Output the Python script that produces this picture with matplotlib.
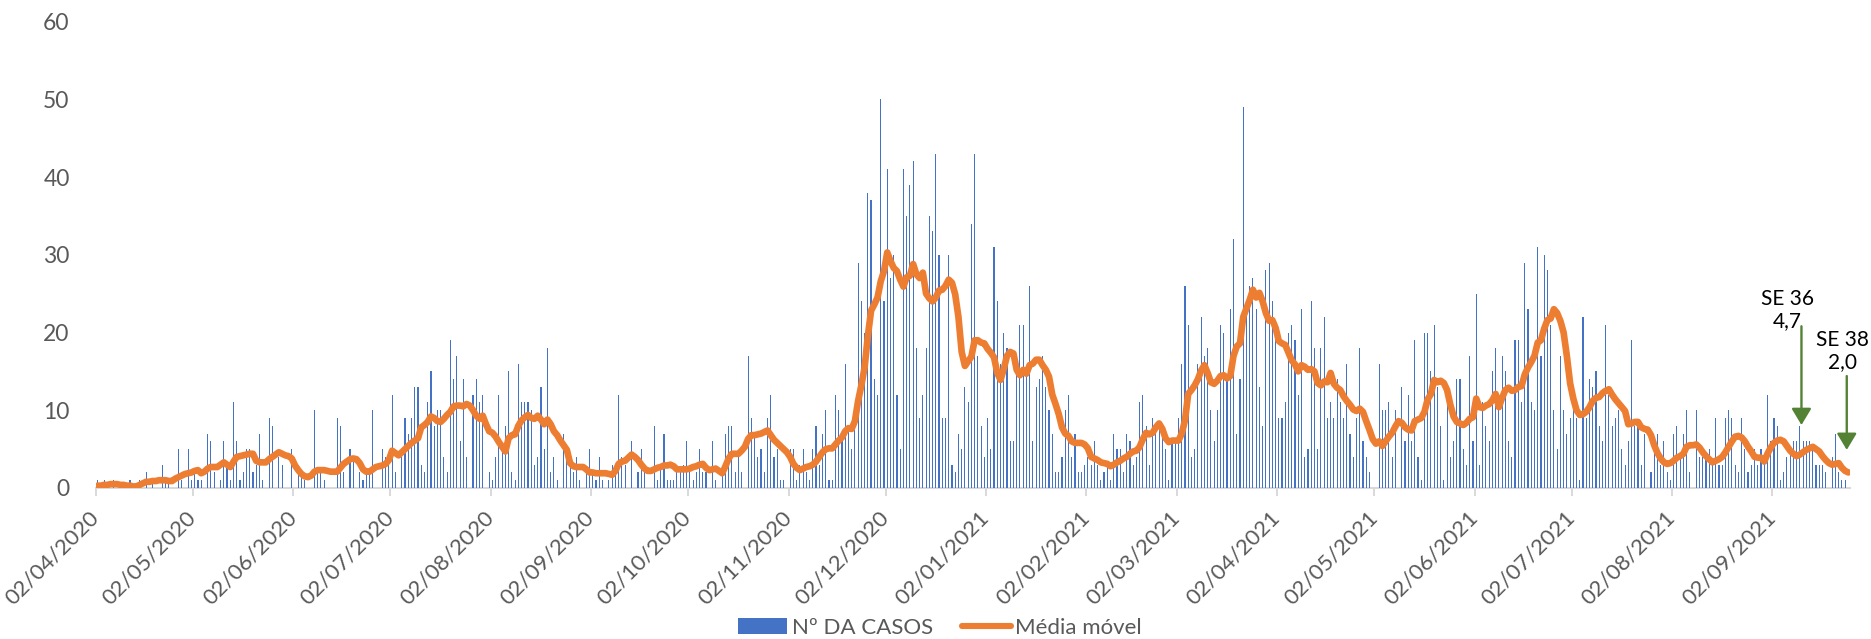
import numpy as np
import pandas as pd
import matplotlib
matplotlib.use("Agg")
import matplotlib.pyplot as plt
from matplotlib.patches import Patch
from matplotlib.lines import Line2D

plt.rcParams['font.family'] = ['Lato', 'DejaVu Sans']

start_date = "2020-04-02"

# Nº DA CASOS (daily, from 02/04/2020)
cases = [
    1,0,1,0,0,1,0,0,0,0,  1,0,0,1,0,2,0,1,0,0,  3,1,1,0,0,5,1,0,5,1,
    2,1,1,0,7,6,2,0,1,6,  3,1,11,6,1,2,5,5,2,3,  7,1,0,9,8,0,4,3,0,0,
    5,0,3,2,1,0,0,10,2,2,  1,0,0,0,9,8,2,0,5,4,  0,2,1,2,2,10,0,0,5,4,
    3,12,2,0,4,9,7,9,13,13,  3,2,11,15,8,10,10,4,2,19,  14,17,6,14,4,0,12,14,11,12,
    0,2,1,4,12,5,8,15,2,1,  16,11,11,11,10,3,4,13,5,18,  2,4,1,0,7,4,3,2,4,1,
    0,2,5,2,1,4,1,0,1,3,  2,12,4,3,0,6,0,2,5,2,  0,0,8,1,3,7,1,1,1,2,
    2,3,6,3,1,2,5,2,2,0,  6,1,0,2,7,8,8,2,4,2,  0,17,9,7,4,5,2,9,12,4,
    5,1,1,0,5,5,1,3,5,2,  1,5,8,3,7,10,1,1,12,10,  6,16,8,5,8,29,24,20,38,37,
    14,12,50,24,41,27,30,12,5,41,  35,39,42,18,9,12,18,35,33,43,  30,9,9,30,3,2,7,5,13,11,
    34,43,17,8,4,9,5,31,24,16,  20,18,6,6,16,21,21,15,26,6,  13,14,17,13,10,7,2,2,4,10,
    12,4,7,2,2,3,4,3,6,3,  1,2,3,1,7,5,5,2,7,6,  3,4,11,12,8,3,9,8,8,8,
    5,1,6,6,9,16,26,21,4,5,  16,22,17,18,10,6,10,21,20,14,  23,32,7,14,49,23,26,27,23,13,
    8,28,29,24,21,9,9,11,20,21,  19,12,23,4,5,24,18,5,18,22,  9,11,9,14,11,9,16,7,4,9,
    18,6,4,2,0,0,16,10,10,11,  4,10,0,13,6,12,6,19,4,1,  20,20,15,21,13,8,1,11,4,6,
    14,14,5,3,17,6,25,3,11,8,  6,15,18,10,17,15,6,4,19,19,  11,29,23,11,10,31,17,30,28,21,
    10,5,17,10,7,9,10,9,1,22,  9,14,13,15,8,6,21,12,8,9,  10,5,3,6,19,8,8,3,7,0,
    2,5,7,3,6,2,1,7,8,4,  7,10,2,0,10,4,4,4,5,3,  9,3,3,9,10,9,3,2,9,5,
    2,3,5,3,5,4,12,6,9,8,  1,2,4,5,6,6,8,6,6,6,  5,3,3,3,2,0,4,7,2,1,
    1,0,
]

# Média móvel (daily)
media_movel = [
    0.3,0.3,0.4,0.4,0.5,0.5,0.5,0.4,0.4,0.3,  0.3,0.2,0.2,0.4,0.6,0.8,0.8,0.9,0.9,1.0,
    1.0,1.0,0.9,0.9,1.2,1.4,1.6,1.8,1.9,2.0,  2.2,2.3,1.9,2.1,2.5,2.7,2.7,2.7,3.0,3.3,
    3.0,2.7,3.4,4.0,4.1,4.2,4.3,4.4,4.4,3.5,  3.3,3.3,3.3,3.7,4.0,4.3,4.6,4.4,4.2,4.1,
    3.8,2.9,2.3,1.8,1.5,1.4,1.6,2.1,2.3,2.3,  2.3,2.2,2.1,2.1,2.1,2.6,3.1,3.4,3.7,3.8,
    3.7,3.2,2.4,2.1,2.1,2.4,2.7,2.8,2.9,3.1,  3.6,4.8,4.5,4.2,4.6,5.0,5.4,5.8,6.1,6.4,
    7.8,8.1,8.5,9.2,9.0,8.6,8.5,8.9,9.4,9.8,  10.5,10.6,10.6,10.5,10.8,10.6,10.0,9.3,8.9,9.3,
    8.2,7.3,7.1,6.6,5.9,5.3,4.7,6.4,6.8,6.9,  8.0,8.7,9.1,9.4,9.0,8.9,9.3,8.8,8.2,8.8,
    8.2,7.3,6.8,6.1,5.5,4.9,3.2,2.8,2.7,2.7,  2.7,2.4,2.0,2.0,1.9,1.9,1.9,1.9,1.8,1.7,
    2.2,3.1,3.4,3.5,3.9,4.3,4.0,3.6,3.0,2.5,  2.2,2.2,2.4,2.6,2.7,2.9,2.9,3.0,2.8,2.4,
    2.4,2.4,2.4,2.5,2.7,2.8,3.0,3.1,2.6,2.3,  2.4,2.5,2.2,1.9,2.8,3.8,4.4,4.4,4.4,4.8,
    5.3,6.3,6.8,6.8,6.9,7.0,7.2,7.4,6.8,6.2,  5.8,5.4,5.0,4.6,4.0,3.1,2.6,2.3,2.5,2.7,
    2.8,3.0,3.4,4.0,4.6,5.0,5.1,5.1,5.6,6.1,  6.5,7.3,7.7,7.6,8.6,11.2,13.2,15.5,19.5,22.8,
    23.6,24.5,26.6,27.9,30.3,29.2,28.3,27.9,26.8,25.9,  27.1,27.3,28.8,27.5,27.0,27.7,25.0,24.4,24.0,24.5,
    25.4,25.5,26.0,26.8,26.4,24.9,22.0,17.5,15.7,16.3,  16.9,19.0,19.0,18.7,18.6,17.9,17.4,16.8,14.8,13.9,
    15.3,17.0,17.5,17.3,15.2,14.5,15.2,14.7,15.8,16.0,  16.5,16.5,15.8,15.2,14.3,12.0,10.8,9.5,7.8,7.0,
    6.7,6.0,5.8,5.8,5.8,5.6,5.1,4.0,3.8,3.6,  3.3,3.2,3.1,2.8,3.0,3.3,3.5,3.8,4.0,4.4,
    4.7,4.8,5.3,6.3,7.1,6.9,7.1,7.8,8.3,7.6,  6.4,5.9,6.1,6.1,6.1,7.0,8.7,12.1,12.6,13.2,
    14.0,15.1,15.8,14.8,13.6,13.4,13.8,14.4,14.5,14.1,  14.4,17.0,18.2,18.6,22.0,23.1,24.2,25.5,24.5,25.1,
    24.0,22.5,21.5,21.6,20.6,18.9,18.6,18.4,17.4,16.4,  15.9,15.0,15.8,15.6,15.2,15.3,15.0,13.5,13.2,13.7,
    13.6,14.8,13.4,12.9,12.6,11.8,11.2,10.7,10.1,9.9,  10.2,9.8,8.6,7.5,6.3,5.7,6.0,5.4,6.0,6.6,
    7.1,7.9,8.6,8.4,7.8,7.5,7.4,8.6,8.8,9.0,  9.8,11.4,12.1,13.9,13.6,13.8,13.5,12.6,10.7,9.2,
    8.5,8.3,8.1,8.4,8.9,9.1,11.5,10.4,10.3,10.6,  10.8,11.3,12.1,10.4,11.6,12.6,12.9,12.5,12.6,13.0,
    13.1,14.6,15.5,16.2,17.0,18.7,19.0,20.5,21.6,21.8,  23.0,22.5,21.5,20.0,17.0,13.5,11.5,10.0,9.4,9.5,
    9.8,10.4,11.2,11.6,11.7,12.2,12.5,12.7,12.0,11.4,  10.9,10.4,9.9,8.2,8.3,8.5,8.5,7.8,7.6,7.5,
    6.8,5.5,4.5,3.8,3.3,3.1,3.2,3.5,3.9,4.1,  4.4,5.3,5.5,5.5,5.6,5.2,4.6,4.1,3.7,3.3,
    3.5,3.7,4.0,4.6,5.3,6.0,6.6,6.7,6.5,6.0,  5.3,4.7,4.0,3.9,3.9,3.4,4.4,5.2,5.8,6.1,
    6.2,6.0,5.4,4.8,4.4,4.1,4.3,4.6,4.9,5.1,  5.3,5.0,4.7,4.1,3.6,3.2,3.0,3.1,3.2,2.6,
    2.2,2.0,
]

tick_labels = ["02/04/2020", "02/05/2020", "02/06/2020", "02/07/2020", "02/08/2020",
               "02/09/2020", "02/10/2020", "02/11/2020", "02/12/2020", "02/01/2021",
               "02/02/2021", "02/03/2021", "02/04/2021", "02/05/2021", "02/06/2021",
               "02/07/2021", "02/08/2021", "02/09/2021"]

annot_labels = ["SE 36\n4,7", "SE 38\n2,0"]
annot_dates = ["11/09/2021", "25/09/2021"]

# ---------------------------------------------------------------
n = min(len(cases), len(media_movel))
cases = cases[:n]
media_movel = media_movel[:n]
t0 = pd.Timestamp(start_date)
x = np.arange(n) + 0.5

W, H = 1871, 639
fig = plt.figure(figsize=(W / 100, H / 100), dpi=100)
ax = fig.add_axes([96 / W, (H - 488) / H, (1850 - 96) / W, (488 - 21.5) / H])

blue = "#4472C4"
orange = "#ED7D31"
grey = "#595959"

ax.bar(x, cases, width=0.35, color=blue, linewidth=0, zorder=2)
ax.plot(x, media_movel, color=orange, lw=4.8, solid_capstyle="round",
        solid_joinstyle="round", zorder=3)

ax.set_xlim(0, n)
ax.set_ylim(0, 60)
ax.set_yticks(range(0, 61, 10))
ax.tick_params(axis="y", length=0, pad=19, labelsize=16.5, labelcolor=grey)

tick_pos = [(pd.to_datetime(s, dayfirst=True) - t0).days for s in tick_labels]
ax.set_xticks(tick_pos)
ax.set_xticklabels(tick_labels)
ax.tick_params(axis="x", direction="out", length=6, width=1.4, color="#D9D9D9",
               pad=13, labelsize=16, labelcolor=grey)
for lab in ax.get_xticklabels():
    lab.set_rotation(45)
    lab.set_ha("right")
    lab.set_va("center")
    lab.set_rotation_mode("anchor")

for s in ["left", "top", "right"]:
    ax.spines[s].set_visible(False)
ax.spines["bottom"].set_color("#D9D9D9")
ax.spines["bottom"].set_linewidth(1.5)
ax.spines["bottom"].set_zorder(1)

# annotations
green = "#548235"
arrow_spans = [(20.8, 8.1), (14.4, 4.9)]
text_pos = [(522.6, 22.85), (539.6, 17.6)]
for lab, dstr, (y0, y1), (tx, ty) in zip(annot_labels, annot_dates, arrow_spans, text_pos):
    xd = (pd.to_datetime(dstr, dayfirst=True) - t0).days
    ax.annotate("", xy=(xd, y1), xytext=(xd, y0),
                arrowprops=dict(arrowstyle="-|>,head_length=1.0,head_width=0.6",
                                color=green, lw=1.7, mutation_scale=10,
                                shrinkA=0, shrinkB=0), zorder=5)
    ax.text(tx, ty, lab, ha="center", va="center", fontsize=15, color="black",
            linespacing=1.15, zorder=6)

handles = [Patch(facecolor=blue, edgecolor="none"),
           Line2D([0], [0], color=orange, lw=4.4, solid_capstyle="round")]
fig.legend(handles, ["Nº DA CASOS", "Média móvel"], loc="center",
           bbox_to_anchor=(940 / W, 1 - 628 / H), ncol=2, frameon=False,
           fontsize=16, labelcolor=grey, handlelength=2.2, handleheight=0.7,
           handletextpad=0.2, columnspacing=1.3)

fig.savefig("out.png", dpi=100)
